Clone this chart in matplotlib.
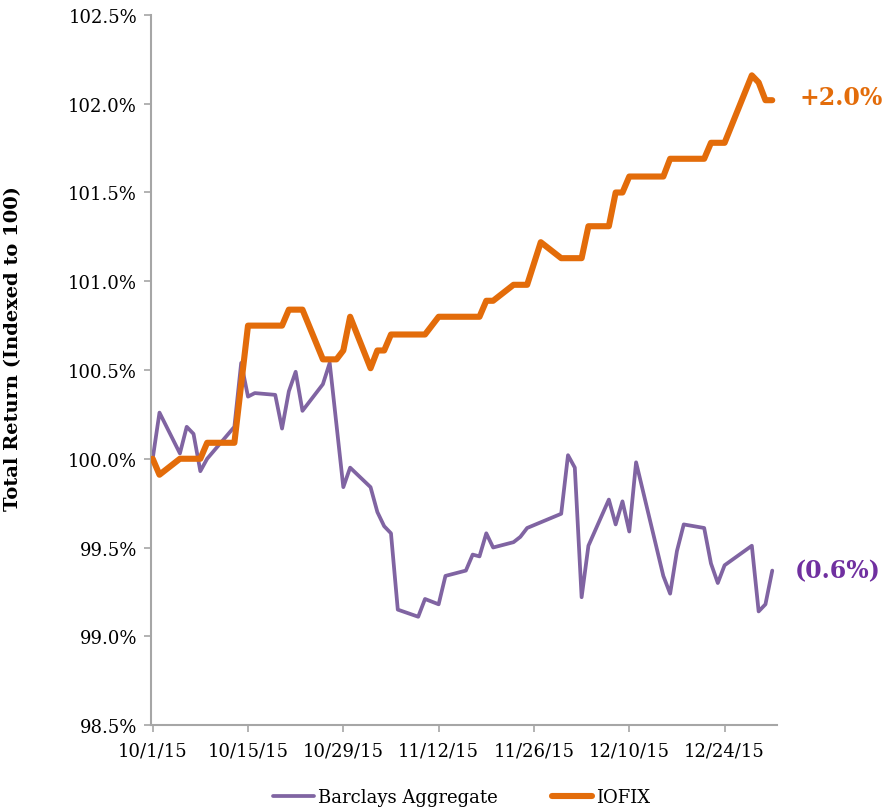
import numpy as np
import pandas as pd
import matplotlib
matplotlib.use("Agg")
import matplotlib.pyplot as plt
import matplotlib.dates as mdates
from matplotlib.ticker import FuncFormatter

plt.rcParams['font.family'] = ['DejaVu Serif']

# Barclays Aggregate (purple)
barc_dates = ['2015-10-01', '2015-10-02', '2015-10-05', '2015-10-06', '2015-10-07',
              '2015-10-08', '2015-10-09', '2015-10-13', '2015-10-14', '2015-10-15',
              '2015-10-16', '2015-10-19', '2015-10-20', '2015-10-21', '2015-10-22',
              '2015-10-23', '2015-10-26', '2015-10-27', '2015-10-29', '2015-10-30',
              '2015-11-02', '2015-11-03', '2015-11-04', '2015-11-05', '2015-11-06',
              '2015-11-09', '2015-11-10', '2015-11-12', '2015-11-13', '2015-11-16',
              '2015-11-17', '2015-11-18', '2015-11-19', '2015-11-20', '2015-11-23',
              '2015-11-24', '2015-11-25', '2015-11-30', '2015-12-01', '2015-12-02',
              '2015-12-03', '2015-12-04', '2015-12-07', '2015-12-08', '2015-12-09',
              '2015-12-10', '2015-12-11', '2015-12-15', '2015-12-16', '2015-12-17',
              '2015-12-18', '2015-12-21', '2015-12-22', '2015-12-23', '2015-12-24',
              '2015-12-28', '2015-12-29', '2015-12-30', '2015-12-31']
barc_vals = [100.00, 100.26, 100.03, 100.18, 100.14,
             99.93, 100.00, 100.18, 100.54, 100.35,
             100.37, 100.36, 100.17, 100.38, 100.49,
             100.27, 100.42, 100.54, 99.84, 99.95,
             99.84, 99.70, 99.62, 99.58, 99.15,
             99.11, 99.21, 99.18, 99.34, 99.37,
             99.46, 99.45, 99.58, 99.50, 99.53,
             99.56, 99.61, 99.69, 100.02, 99.95,
             99.22, 99.51, 99.77, 99.63, 99.76,
             99.59, 99.98, 99.34, 99.24, 99.48,
             99.63, 99.61, 99.41, 99.30, 99.40,
             99.51, 99.14, 99.18, 99.37]

# IOFIX (orange)
iofix_dates = ['2015-10-01', '2015-10-02', '2015-10-05', '2015-10-06', '2015-10-07',
               '2015-10-08', '2015-10-09', '2015-10-12', '2015-10-13', '2015-10-15',
               '2015-10-16', '2015-10-19', '2015-10-20', '2015-10-21', '2015-10-22',
               '2015-10-23', '2015-10-26', '2015-10-27', '2015-10-28', '2015-10-29',
               '2015-10-30', '2015-11-02', '2015-11-03', '2015-11-04', '2015-11-05',
               '2015-11-06', '2015-11-09', '2015-11-10', '2015-11-12', '2015-11-13',
               '2015-11-16', '2015-11-17', '2015-11-18', '2015-11-19', '2015-11-20',
               '2015-11-23', '2015-11-24', '2015-11-25', '2015-11-27', '2015-11-30',
               '2015-12-01', '2015-12-02', '2015-12-03', '2015-12-04', '2015-12-07',
               '2015-12-08', '2015-12-09', '2015-12-10', '2015-12-11', '2015-12-14',
               '2015-12-15', '2015-12-16', '2015-12-17', '2015-12-18', '2015-12-21',
               '2015-12-22', '2015-12-23', '2015-12-24', '2015-12-28', '2015-12-29',
               '2015-12-30', '2015-12-31']
iofix_vals = [100.00, 99.91, 100.00, 100.00, 100.00,
              100.00, 100.09, 100.09, 100.09, 100.75,
              100.75, 100.75, 100.75, 100.84, 100.84,
              100.84, 100.56, 100.56, 100.56, 100.61,
              100.80, 100.51, 100.61, 100.61, 100.70,
              100.70, 100.70, 100.70, 100.80, 100.80,
              100.80, 100.80, 100.80, 100.89, 100.89,
              100.98, 100.98, 100.98, 101.22, 101.13,
              101.13, 101.13, 101.13, 101.31, 101.31,
              101.50, 101.50, 101.59, 101.59, 101.59,
              101.59, 101.69, 101.69, 101.69, 101.69,
              101.78, 101.78, 101.78, 102.16, 102.12,
              102.02, 102.02]

tick_dates = ['2015-10-01', '2015-10-15', '2015-10-29', '2015-11-12',
              '2015-11-26', '2015-12-10', '2015-12-24']

purple = '#8064A2'
orange = '#E36C0A'
axis_gray = '#A6A6A6'

fig = plt.figure(figsize=(8.86, 8.12), dpi=100)
ax = fig.add_axes([0.1704, 0.1059, 0.7066, 0.8744])

bd = pd.to_datetime(barc_dates)
od = pd.to_datetime(iofix_dates)

ax.plot(bd, barc_vals, color=purple, lw=2.7, solid_joinstyle='round',
        solid_capstyle='round', label='Barclays Aggregate', zorder=2)
ax.plot(od, iofix_vals, color=orange, lw=4.4, solid_joinstyle='round',
        solid_capstyle='round', label='IOFIX', zorder=3)

start = pd.Timestamp('2015-10-01')
ax.set_xlim(mdates.date2num(start) - 0.25, mdates.date2num(start) + 91.7)
ax.set_ylim(98.5, 102.5)
ax.set_yticks(np.arange(98.5, 102.51, 0.5))
ax.yaxis.set_major_formatter(FuncFormatter(lambda v, p: '%.1f%%' % v))

ax.set_xticks(pd.to_datetime(tick_dates))
def date_fmt(v, p):
    d = mdates.num2date(v)
    return '%d/%d/%d' % (d.month, d.day, d.year % 100)
ax.xaxis.set_major_formatter(FuncFormatter(date_fmt))

for s in ['top', 'right']:
    ax.spines[s].set_visible(False)
for s in ['left', 'bottom']:
    ax.spines[s].set_color(axis_gray)
    ax.spines[s].set_linewidth(1.5)
ax.tick_params(axis='both', colors=axis_gray, labelcolor='black', length=5,
               width=1.2, labelsize=13)
ax.tick_params(axis='x', pad=7)
ax.tick_params(axis='y', pad=5)

ax.set_ylabel('Total Return (Indexed to 100)', fontsize=14, fontweight='bold')
ax.yaxis.set_label_coords(-0.206, 0.532)

end_x = mdates.date2num(start) + 95.0
ax.text(end_x, 102.04, '+2.0%', color=orange, fontsize=17, fontweight='bold',
        ha='left', va='center', clip_on=False)
ax.text(end_x - 0.7, 99.37, '(0.6%)', color='#7030A0', fontsize=17,
        fontweight='bold', ha='left', va='center', clip_on=False)

fig.legend(loc='lower center', bbox_to_anchor=(0.521, -0.014), ncol=2, frameon=False,
           fontsize=13, handlelength=2.25, handletextpad=0.2, columnspacing=3.0)

fig.savefig('out.png', dpi=100)
